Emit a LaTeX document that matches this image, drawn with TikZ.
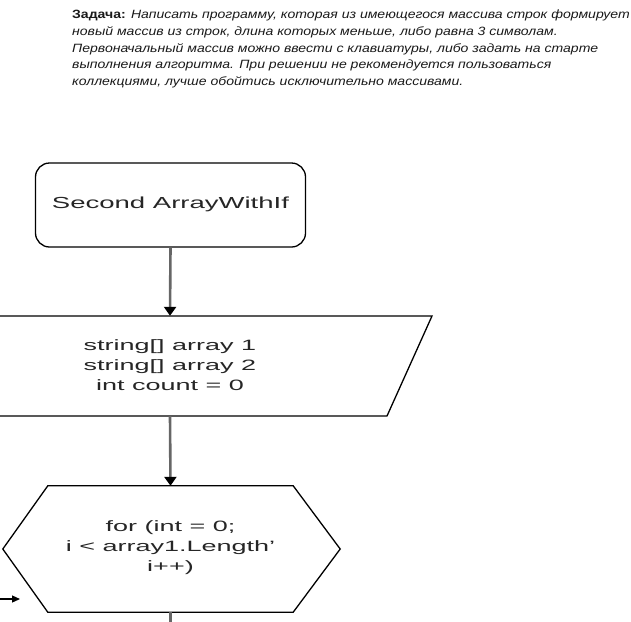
\documentclass[tikz,border=0pt]{standalone}
\usepackage{fontspec}
\setmainfont{Liberation Sans}
\usetikzlibrary{arrows.meta,calc}
\newcommand{\wide}[2]{\scalebox{#1}[1]{#2}}
\tikzset{
  x=1pt, y=-1pt,
  shapeline/.style={draw=black, line width=1.3pt},
  flow/.style={draw=black!60, line width=2.6pt, -{Triangle[length=9pt,width=12pt,color=black]}},
  boxtext/.style={text=black!85, font=\fontsize{15}{20}\selectfont, align=center, inner sep=0pt},
}
\begin{document}
\begin{tikzpicture}
\useasboundingbox (0,0) rectangle (631,621);
% task text
\node[anchor=north west, align=left, inner sep=0pt, text=black!90,
      font=\fontsize{12}{16.7}\selectfont] (task) at (72,10)
  {\wide{1.17}{\textbf{Задача:} \textit{Написать программу, которая из имеющегося массива строк формирует}}\\
   \wide{1.17}{\textit{новый массив из строк, длина которых меньше, либо равна 3 символам.}}\\
   \wide{1.17}{\textit{Первоначальный массив можно ввести с клавиатуры, либо задать на старте}}\\
   \wide{1.17}{\textit{выполнения алгоритма. При решении не рекомендуется пользоваться}}\\
   \wide{1.17}{\textit{коллекциями, лучше обойтись исключительно массивами.}}};
% start
\node[shapeline, rounded corners=14pt, minimum width=270, minimum height=84, inner sep=0pt] (start) at (170.5,205) {};
\node[boxtext, font=\fontsize{16}{20}\selectfont] (starttext) at (170.5,204) {\wide{1.72}{Second ArrayWithIf}};
% input parallelogram
\node[minimum width=200, minimum height=100, inner sep=0pt] (init) at (170,366) {};
\node[boxtext] (inittext) at (170,365) {\wide{1.8}{string[] array 1}\\ \wide{1.8}{string[] array 2}\\ \wide{1.8}{int count = 0}};
\draw[shapeline] (-120,316) -- (432,316) -- (387,416) -- (-120,416);
% loop hexagon
\node[minimum width=245, minimum height=126, inner sep=0pt] (loop) at (170.5,549) {};
\node[boxtext] (looptext) at (170.5,548) {\wide{1.8}{for (int = 0;}\\ \wide{1.8}{i < array1.Length'}\\ \wide{1.8}{i++)}};
\draw[shapeline] (loop.north west) -- (loop.north east) -- ($(loop.east)+(47,0)$) -- (loop.south east) -- (loop.south west) -- ($(loop.west)+(-45,0)$) -- cycle;
% connectors
\draw[flow] (start.south) -- (init.north);
\draw[flow] (init.south) -- (loop.north);
\coordinate (down) at (170.5,640);
\draw[draw=black!60, line width=2.6pt] (loop.south) -- (down);
\coordinate (backfrom) at (-5,599);
\coordinate (backto) at (20,599);
\draw[draw=black, line width=1.2pt, -{Triangle[length=8pt,width=7pt]}] (backfrom) -- (backto);
\end{tikzpicture}
\end{document}
